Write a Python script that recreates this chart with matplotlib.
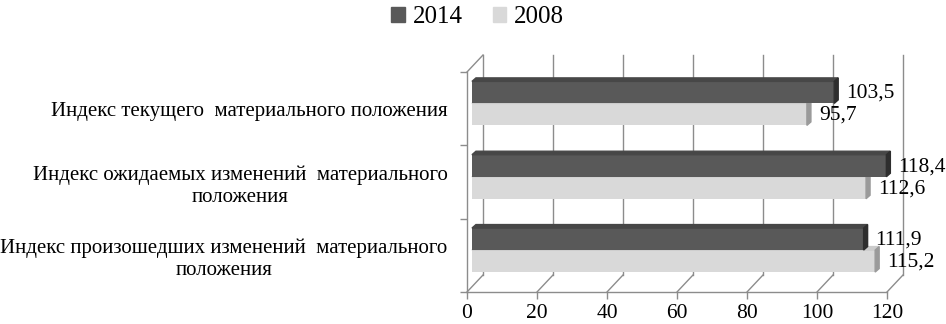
import matplotlib
matplotlib.use('Agg')
import matplotlib.pyplot as plt
from matplotlib.patches import Polygon

categories = ['Индекс текущего  материального положения',
              'Индекс ожидаемых изменений  материального\nположения',
              'Индекс произошедших изменений  материального\nположения']
vals_2014 = [103.5, 118.4, 111.9]
vals_2008 = [95.7, 112.6, 115.2]
labels_2014 = ['103,5', '118,4', '111,9']
labels_2008 = ['95,7', '112,6', '115,2']
series_names = ['2014', '2008']
xticks = [0, 20, 40, 60, 80, 100, 120]

plt.rcParams['font.family'] = ['Liberation Serif', 'DejaVu Serif']

W, H = 946, 324
fig = plt.figure(figsize=(W / 100, H / 100), dpi=100)
fig.set_facecolor('white')

# axes = front plane of the pseudo 3d box
ax = fig.add_axes([467 / W, (H - 292) / H, 420 / W, 220 / H])
ax.set_xlim(0, 120)
ax.set_ylim(0, 3)
pxx = 420 / 120   # pixels per x unit
pxy = 220 / 3     # pixels per y unit

# depth of the box and of the bars, pixels -> data units
dx, dy = 16 / pxx, 17 / pxy
mx, my = 0.31 * dx, 0.31 * dy      # bars sit a bit behind the front plane
bdx, bdy = 4 / pxx, 3.5 / pxy      # bar thickness in depth

gcol = '#8c8c8c'
for x in xticks:
    ax.plot([x + dx, x + dx], [dy, 3 + dy], color=gcol, lw=1, clip_on=False, zorder=1)
    ax.plot([x, x + dx], [0, dy], color=gcol, lw=1, clip_on=False, zorder=1)
ax.plot([0, dx], [3, 3 + dy], color=gcol, lw=1, clip_on=False, zorder=1)

centers = [2.5, 1.5, 0.5]
bh = 0.3


def bar3d(y0, v, front, top, side):
    x0 = mx
    x1 = mx + v
    y1 = y0 + bh
    ax.barh(y0, v, height=bh, left=x0, align='edge', color=front, zorder=3, clip_on=False)
    ax.add_patch(Polygon([(x0, y1), (x1, y1), (x1 + bdx, y1 + bdy), (x0 + bdx, y1 + bdy)],
                         closed=True, color=top, zorder=3, clip_on=False))
    ax.add_patch(Polygon([(x1, y0), (x1, y1), (x1 + bdx, y1 + bdy), (x1 + bdx, y0 + bdy)],
                         closed=True, color=side, zorder=3, clip_on=False))


for c, v14, v08, l14, l08 in zip(centers, vals_2014, vals_2008, labels_2014, labels_2008):
    yc = c + my
    bar3d(yc - bh, v08, '#d9d9d9', '#cbcbcb', '#9a9a9a')
    bar3d(yc, v14, '#595959', '#474747', '#2e2e2e')
    ax.annotate(l14, xy=(mx + v14, yc + bh / 2), xytext=(12, -1), textcoords='offset pixels',
                ha='left', va='center', fontsize=15.5, zorder=5, annotation_clip=False)
    ax.annotate(l08, xy=(mx + v08, yc - bh / 2), xytext=(12, -1), textcoords='offset pixels',
                ha='left', va='center', fontsize=15.5, zorder=5, annotation_clip=False)

for s in ['top', 'right']:
    ax.spines[s].set_visible(False)
for s in ['left', 'bottom']:
    ax.spines[s].set_color(gcol)
    ax.spines[s].set_linewidth(1)

ax.set_xticks(xticks)
ax.set_xticklabels([str(t) for t in xticks], fontsize=15.5)
ax.set_yticks([0, 1, 2, 3])
ax.set_yticklabels([])
ax.set_yticks(centers, minor=True)
ax.set_yticklabels(categories, minor=True, fontsize=15, multialignment='center')
ax.tick_params(axis='both', which='major', length=5, color=gcol, width=1)
ax.tick_params(axis='x', pad=3.5)
ax.tick_params(axis='y', which='minor', length=0, pad=14)

handles = [plt.Rectangle((0, 0), 1, 1, color='#595959'),
           plt.Rectangle((0, 0), 1, 1, color='#d9d9d9')]
fig.legend(handles, series_names, loc='upper center', bbox_to_anchor=(0.505, 1.05), ncol=2,
           frameon=False, fontsize=18, handlelength=0.55, handleheight=0.55,
           handletextpad=0.3, columnspacing=1.2)

fig.savefig('out.png', dpi=100)
